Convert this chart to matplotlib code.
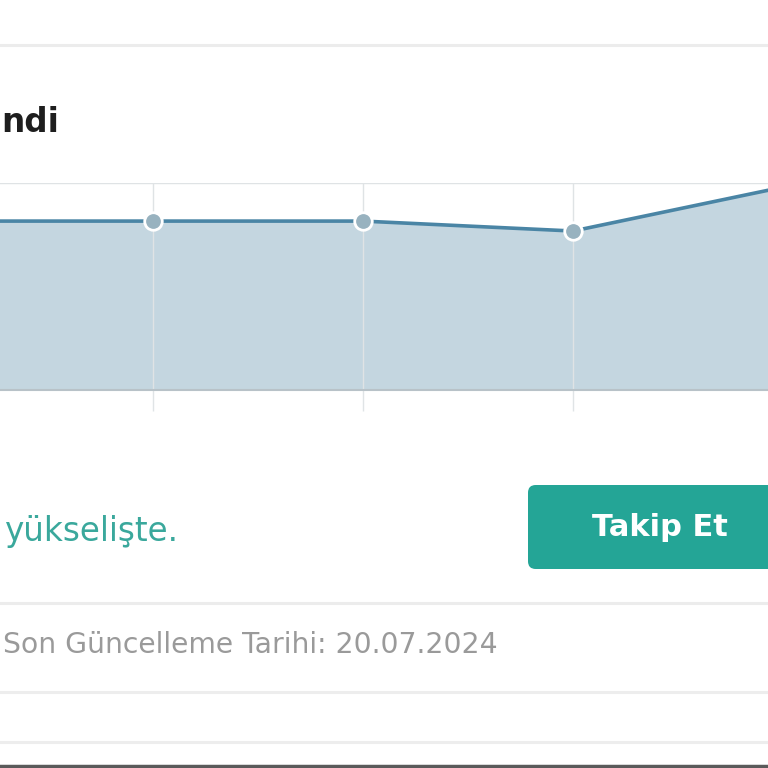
import matplotlib.pyplot as plt
from matplotlib.patches import FancyBboxPatch

# trend values (screen shows only part of the series)
idx = [0, 1, 2, 3, 4]
values = [81.6, 81.6, 81.6, 76.8, 98.0]

title_text = "ndi"
status_text = "yükselişte."
button_text = "Takip Et"
update_text = "Son Güncelleme Tarihi: 20.07.2024"

W, H = 768, 768
fig = plt.figure(figsize=(7.68, 7.68), dpi=100)
fig.patch.set_facecolor('white')


def fy(py):
    return 1 - py / H


def hline(py, color, lw):
    fig.add_artist(plt.Line2D([0, 1], [fy(py), fy(py)], transform=fig.transFigure,
                              color=color, lw=lw))


# separators
hline(45, '#ececec', 2.2)
hline(603, '#ececec', 2.2)
hline(692, '#ededed', 2.2)
hline(742, '#ededed', 2.2)
hline(766, '#5a5a5a', 2.5)

# heading
fig.text(1 / W, fy(123), title_text, fontsize=23.5, fontweight='bold',
         family='DejaVu Sans', color='#1e1e1e', va='center', ha='left')

# chart
ax = fig.add_axes([0, fy(390), 1, (390 - 183) / H])
ax.fill_between(idx, values, 0, color='#c4d6e0', lw=0)
ax.plot(idx, values, color='#4a85a5', lw=2.6, solid_joinstyle='round')
ax.scatter(idx[1:4], values[1:4], s=160, color='#98b2bf', edgecolor='white',
           linewidth=2, zorder=3)
ax.set_xlim(57 / 210, 825 / 210)
ax.set_ylim(0, 100)
ax.set_xticks([1, 2, 3])
ax.set_yticks([100])
ax.set_xticklabels([])
ax.set_yticklabels([])
ax.grid(True, color='#dfe3e5', lw=1)
for g in ax.get_xgridlines() + ax.get_ygridlines():
    g.set_zorder(1.5)
ax.tick_params(axis='x', direction='out', length=15, color='#e0e4e6', width=1)
ax.tick_params(axis='y', length=0)
for s in ['top', 'left', 'right']:
    ax.spines[s].set_visible(False)
ax.spines['bottom'].set_color('#b8c2c8')
ax.spines['bottom'].set_linewidth(1.5)
ax.set_facecolor('white')

# status text
fig.text(5 / W, fy(532), status_text, fontsize=23.5, family='DejaVu Sans',
         color='#3aa89c', va='center', ha='left')

# button
btn = FancyBboxPatch((528 / W, fy(569)), 300 / W, 84 / H,
                     boxstyle='round,pad=0,rounding_size=0.01',
                     transform=fig.transFigure, facecolor='#24a596',
                     edgecolor='none')
fig.add_artist(btn)
fig.text(660 / W, fy(527), button_text, fontsize=22, fontweight='bold',
         family='DejaVu Sans', color='white', va='center', ha='center')

# update date
fig.text(3 / W, fy(645), update_text, fontsize=20.3, family='DejaVu Sans',
         color='#9a9a9a', va='center', ha='left')

plt.savefig('out.png', dpi=100)
